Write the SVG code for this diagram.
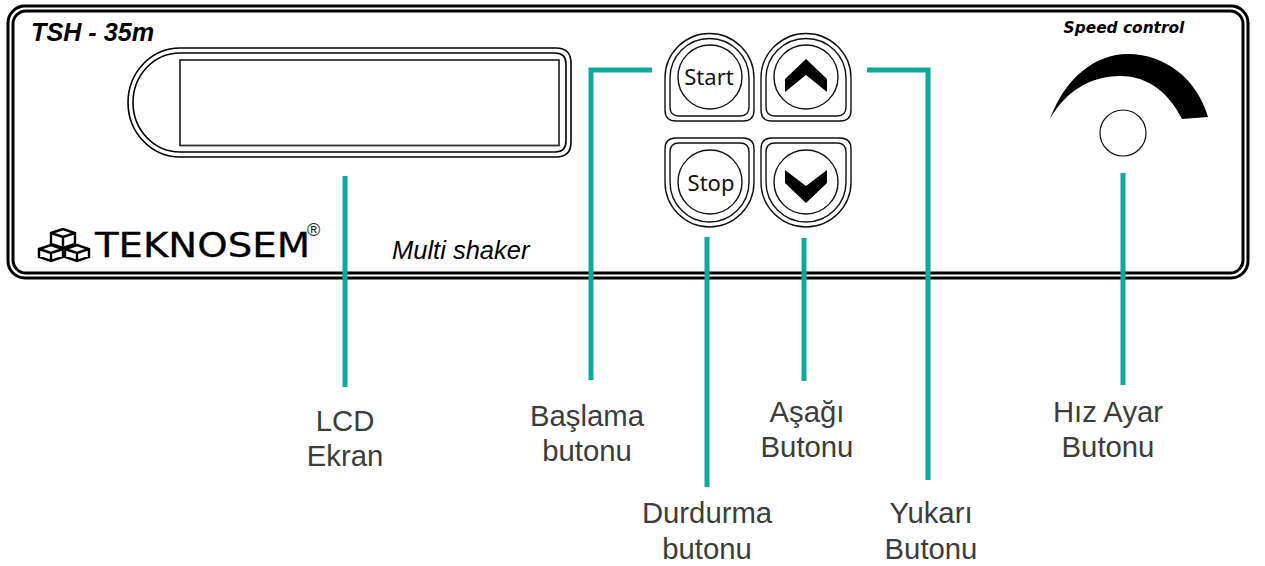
<svg xmlns="http://www.w3.org/2000/svg" width="1265" height="566" viewBox="0 0 1265 566">
<style>
.ln{fill:none;stroke:#000}
.btn{fill:none;stroke:#111;stroke-width:1.4}
.ct{fill:none;stroke:#0fa99b;stroke-width:5}
.lb{font-family:"Liberation Sans",Arial,sans-serif;font-size:29.3px;fill:#3c3c3c;text-anchor:middle}
.bt{font-family:"Noto Sans",sans-serif;font-size:22px;fill:#111;text-anchor:middle}
.it{font-family:"Liberation Sans",Arial,sans-serif;font-style:italic;fill:#000}
</style>
<rect width="1265" height="566" fill="#fff"/>
<g id="panel">
<rect x="8" y="6" width="1240" height="272" rx="17" class="ln" stroke-width="3"/>
<rect x="13" y="11" width="1230" height="262" rx="13" class="ln" stroke-width="3"/>
<text class="it" x="31" y="41" font-size="25.200" font-weight="700">TSH - 35m</text>
<text class="it" x="392" y="259" font-size="25.500">Multi shaker</text>
</g>
<g id="lcd">
<path class="ln" stroke-width="1.600" d="M556 48H180A52 54.500 0 0 0 180 157H556Q571 157 571 142V63Q571 48 556 48Z"/>
<path class="ln" stroke-width="1.600" d="M555 53H180A47 49.500 0 0 0 180 152H555Q566 152 566 141V64Q566 53 555 53Z"/>
<rect x="180" y="60" width="379" height="85.500" fill="none" stroke="#333" stroke-width="1.800"/>
</g>
<g id="logo">
<g fill="none" stroke="#000" stroke-width="2.400">
<path d="M51 233L63 229L75 233V244L63 248L51 244ZM51 233L63 237L75 233M63 237V248"/>
<path d="M39 249L51 245L63 249V257L51 261L39 257ZM39 249L51 253L63 249M51 253V261"/>
<path d="M65 249L77 245L89 249V257L77 261L65 257ZM65 249L77 253L89 249M77 253V261"/>
</g>
<text x="95" y="257" font-family="'DejaVu Sans',sans-serif" font-size="33" textLength="215" lengthAdjust="spacingAndGlyphs" fill="#000" stroke="#000" stroke-width="0.300">TEKNOSEM</text>
<text x="307" y="236" font-family="'Liberation Sans',sans-serif" font-size="18" fill="#222">®</text>
</g>
<g id="btn-start">
<path class="btn" d="M665 110V78A44.500 44.500 0 0 1 754 78V110Q754 121 743 121H676Q665 121 665 110Z"/>
<path class="btn" d="M670 107V78A39.500 39.500 0 0 1 749 78V107Q749 116 740 116H679Q670 116 670 107Z"/>
<circle class="btn" cx="710" cy="77" r="32"/>
<text class="bt" x="709" y="85">Start</text>
</g>
<g id="btn-up">
<path class="btn" d="M761 110V78A45 44.500 0 0 1 851 78V110Q851 121 840 121H772Q761 121 761 110Z"/>
<path class="btn" d="M766 107V78A40 39.500 0 0 1 846 78V107Q846 116 837 116H775Q766 116 766 107Z"/>
<circle class="btn" cx="806" cy="77" r="32"/>
<path d="M785 79L806 59L827 79V92L806 75L785 92Z" fill="#000"/>
</g>
<g id="btn-stop">
<path class="btn" d="M665 149V182A44.500 45 0 0 0 754 182V149Q754 138 743 138H676Q665 138 665 149Z"/>
<path class="btn" d="M670 152V182A39.500 40 0 0 0 749 182V152Q749 143 740 143H679Q670 143 670 152Z"/>
<circle class="btn" cx="710" cy="182" r="32"/>
<text class="bt" x="711" y="191">Stop</text>
</g>
<g id="btn-down">
<path class="btn" d="M761 149V182A45 45 0 0 0 851 182V149Q851 138 840 138H772Q761 138 761 149Z"/>
<path class="btn" d="M766 152V182A40 40 0 0 0 846 182V152Q846 143 837 143H775Q766 143 766 152Z"/>
<circle class="btn" cx="806" cy="182" r="32"/>
<path d="M785 170L806 186L827 170V183L806 203L785 183Z" fill="#000"/>
</g>
<g id="speed">
<text x="1124" y="33" font-family="'DejaVu Sans',sans-serif" font-size="15.400" font-weight="700" font-style="italic" text-anchor="middle" fill="#000">Speed control</text>
<path d="M1050 119C1065 78 1095 54 1128 54C1165 54 1197 79 1208 117L1182 119C1170 95 1150 76 1120 76C1090 76 1065 92 1050 119Z" fill="#000"/>
<circle cx="1123" cy="133" r="23" fill="none" stroke="#111" stroke-width="1.200"/>
</g>
<g id="connectors">
<path class="ct" d="M345 176V387"/>
<path class="ct" d="M652 70H591V380"/>
<path class="ct" d="M707 237V487"/>
<path class="ct" d="M804 238V381"/>
<path class="ct" d="M867 70H928V480"/>
<path class="ct" d="M1123 173V385"/>
</g>
<g id="labels">
<text class="lb" x="345" y="431">LCD</text><text class="lb" x="345" y="466">Ekran</text>
<text class="lb" x="587" y="426">Başlama</text><text class="lb" x="587" y="461">butonu</text>
<text class="lb" x="707" y="523">Durdurma</text><text class="lb" x="707" y="559">butonu</text>
<text class="lb" x="807" y="422">Aşağı</text><text class="lb" x="807" y="457">Butonu</text>
<text class="lb" x="931" y="523">Yukarı</text><text class="lb" x="931" y="559">Butonu</text>
<text class="lb" x="1108" y="422">Hız Ayar</text><text class="lb" x="1108" y="457">Butonu</text>
</g>
</svg>
